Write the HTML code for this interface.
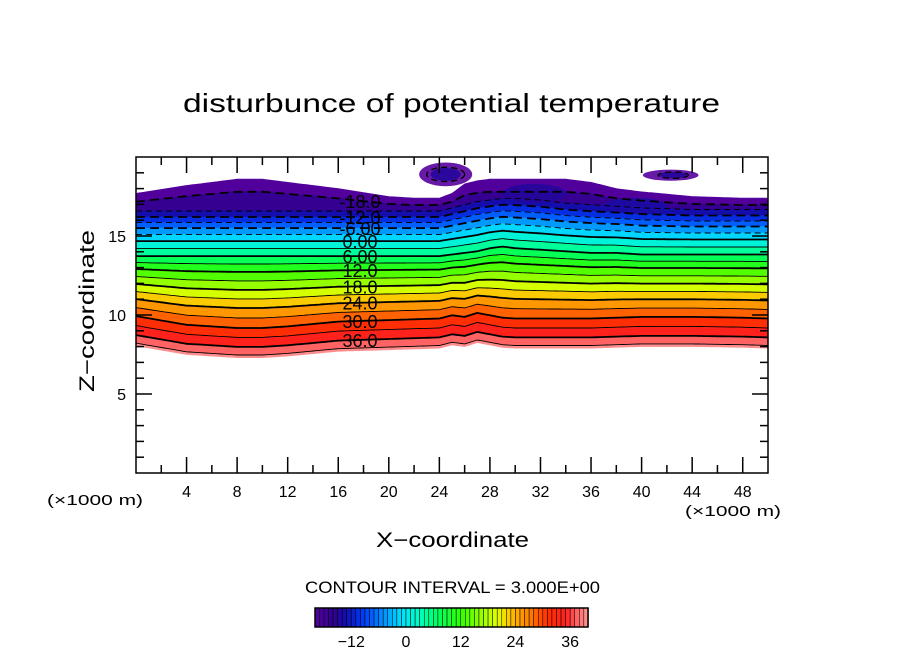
<!DOCTYPE html>
<html><head><meta charset="utf-8"><style>
html,body{margin:0;padding:0;background:#fff}
svg{display:block;font-family:"Liberation Sans",sans-serif}
</style></head><body>
<svg id="chart" width="904" height="654" viewBox="0 0 904 654">
<text x="183" y="112" textLength="537" lengthAdjust="spacingAndGlyphs" font-size="26">disturbunce of potential temperature</text>
<g id="plot"></g>
<g id="axes"></g>
<text transform="translate(94,392) rotate(-90)" textLength="162" lengthAdjust="spacingAndGlyphs" font-size="21">Z−coordinate</text>
<text x="376" y="547" textLength="153" lengthAdjust="spacingAndGlyphs" font-size="21">X−coordinate</text>
<text x="47" y="505" textLength="96" lengthAdjust="spacingAndGlyphs" font-size="15">(×1000 m)</text>
<text x="685" y="516" textLength="96" lengthAdjust="spacingAndGlyphs" font-size="15">(×1000 m)</text>
<text x="305" y="593" textLength="295" lengthAdjust="spacingAndGlyphs" font-size="17">CONTOUR INTERVAL = 3.000E+00</text>
<g id="cbar"></g>
</svg>
<script>
// ---- data ----
const levelVals = [-21,-18,-12,-6,0,6,12,18,24,30,36,40];
const levelZ    = [17.4,16.96,16.2,15.5,14.68,13.73,12.85,11.84,10.82,9.68,8.48,7.8];
const xs   = [0,4,8,10,12,16,20,22,24,25,26,27,28,29,30,32,34,36,38,40,44,48,50];
const dTop = [0.3,0.8,1.2,1.2,1.0,0.6,0.1,0,0,0.3,0.9,1.1,1.2,1.2,1.2,1.2,1.2,1.0,0.6,0.4,0.1,0,0];
const dUp  = [0,0,0,0,0,0,0,0,0,0.2,0.4,0.6,0.7,0.8,0.8,0.7,0.5,0.4,0.3,0.2,0.1,0.1,0.1];
const dMid = [0,0,0,0,0,0,0,0,0,0.1,0.2,0.3,0.5,0.6,0.5,0.4,0.3,0.2,0.2,0.1,0.1,0.1,0.1];
const dLow = [0.25,-0.3,-0.5,-0.5,-0.4,-0.1,0,0.05,0.1,0.3,0.2,0.45,0.3,0.15,0.1,0.1,0.1,0.1,0.15,0.2,0.2,0.15,0.1];
const xTicks = [4,8,12,16,20,24,28,32,36,40,44,48];
const zTicks = [5,10,15];
const cbarTicks = [-12,0,12,24,36];
const labelLevels = [-18,-12,-6,0,6,12,18,24,30,36];
const labelText = ["-18.0","-12.0","-6.00","0.00","6.00","12.0","18.0","24.0","30.0","36.0"];
// blobs: [xCenter, zCenter, xRadius, zRadius, value]
const blobs = [[24.5,18.9,2.1,0.75,-20],[24.5,18.9,1.2,0.4,-15],[42.3,18.85,2.2,0.35,-20],[42.5,18.85,1.1,0.2,-15],
               [31.5,17.7,2.5,0.6,-15],[39.5,16.9,2.5,0.5,-14]];

// ---- scales ----
const X0=136,X1=768,Y0=473,Y1=157;
const sx=x=>X0+(X1-X0)*x/50, sz=z=>Y0-(Y0-Y1)*z/20;
const NS="http://www.w3.org/2000/svg";
function mk(tag,attrs,parent){const e=document.createElementNS(NS,tag);for(const k in attrs)e.setAttribute(k,attrs[k]);parent.appendChild(e);return e;}
function interp(arrX,arrY,x){if(x<=arrX[0])return arrY[0];for(let i=1;i<arrX.length;i++){if(x<=arrX[i]){const t=(x-arrX[i-1])/(arrX[i]-arrX[i-1]);return arrY[i-1]+t*(arrY[i]-arrY[i-1]);}}return arrY[arrY.length-1];}
const cmV=[-21,-16,-13,-9,-5,-1,3,7,12,17,20,23,27,31,35,38,41];
const cmC=[[96,0,160],[48,0,144],[16,16,176],[0,64,255],[0,144,255],[0,224,255],[0,255,192],[0,255,96],[48,255,0],[160,255,0],[224,255,0],[255,192,0],[255,128,0],[255,48,0],[255,32,32],[255,112,112],[255,170,170]];
function color(v){const c=[0,1,2].map(k=>Math.round(interp(cmV,cmC.map(a=>a[k]),v)));return `rgb(${c[0]},${c[1]},${c[2]})`;}
const dTop2 = dTop.map(d=>d*0.7);
const anchV=[-21,-18,-15,6,30], anchP=[dTop,dTop2,dUp,dMid,dLow];
function disp(v,x){const d=anchP.map(p=>interp(xs,p,x));return interp(anchV,d,v);}
function zOf(v,x){return interp(levelVals,levelZ,v)+disp(v,x);}
function curve(v){const pts=[];for(let x=0;x<=50.001;x+=0.25)pts.push([sx(x),sz(zOf(v,x))]);return pts;}

const plot=document.getElementById('plot');
const bandLevels=[];for(let v=-21;v<40;v+=3)bandLevels.push(v);bandLevels.push(40);
for(let i=0;i<bandLevels.length-1;i++){
  const a=curve(bandLevels[i]), b=curve(bandLevels[i+1]).reverse();
  const c=color((bandLevels[i]+bandLevels[i+1])/2);
  const p=mk('polygon',{points:a.concat(b).map(q=>q[0].toFixed(1)+','+q[1].toFixed(1)).join(' '),fill:c,stroke:c,'stroke-width':0.6},plot);
  
  
}
blobs.forEach((bl,i)=>{
  const e=mk('ellipse',{cx:sx(bl[0]),cy:sz(bl[1]),rx:sx(bl[2])-X0,ry:sz(0)-sz(bl[3]),fill:color(bl[4]),opacity:0.9},plot);
  
  
});
mk('ellipse',{cx:sx(24.5),cy:sz(18.9),rx:sx(1.5)-X0,ry:sz(0)-sz(0.45),fill:'none',stroke:'#000','stroke-width':1.3,'stroke-dasharray':'6,4'},plot);
mk('ellipse',{cx:sx(42.5),cy:sz(18.85),rx:sx(1.2)-X0,ry:sz(0)-sz(0.2),fill:'none',stroke:'#000','stroke-width':1.3,'stroke-dasharray':'6,4'},plot);
for(let v=-18;v<=39;v+=3){
  const pts=curve(v);
  const major=v%6===0;
  const l=mk('polyline',{points:pts.map(q=>q[0].toFixed(1)+','+q[1].toFixed(1)).join(' '),fill:'none',stroke:'#000','stroke-width':major?1.8:0.9},plot);
  if(v<0)l.setAttribute('stroke-dasharray',major?'9,5':'6,4');
  
  
}
labelLevels.forEach((v,i)=>{
  const y=sz(zOf(v,18));
  const t=mk('text',{x:360,y:y+7,'text-anchor':'middle','font-size':18},plot);
  t.textContent=labelText[i];
  
  
});
const ax=document.getElementById('axes');
mk('rect',{x:X0,y:Y1,width:X1-X0,height:Y0-Y1,fill:'none',stroke:'#000','stroke-width':1.5},ax);
for(let x=2;x<50;x+=2){const L=(x%4===0)?16:8;
  mk('line',{x1:sx(x),x2:sx(x),y1:Y0,y2:Y0-L,stroke:'#000','stroke-width':1.5},ax);
  mk('line',{x1:sx(x),x2:sx(x),y1:Y1,y2:Y1+L,stroke:'#000','stroke-width':1.5},ax);}
for(let z=1;z<20;z++){const L=(z%5===0)?16:8;
  mk('line',{x1:X0,x2:X0+L,y1:sz(z),y2:sz(z),stroke:'#000','stroke-width':1.5},ax);
  mk('line',{x1:X1,x2:X1-L,y1:sz(z),y2:sz(z),stroke:'#000','stroke-width':1.5},ax);}
xTicks.forEach(x=>{const t=mk('text',{x:sx(x),y:497,'text-anchor':'middle','font-size':16},ax);t.textContent=x;
  
  });
zTicks.forEach(z=>{const t=mk('text',{x:126,y:sz(z)+6,'text-anchor':'end','font-size':16},ax);t.textContent=z;
  
  });
const cb=document.getElementById('cbar');
const cbx=v=>406+(v)*4.56;
for(let v=-20;v<40;v++){
  mk('rect',{x:cbx(v),y:608,width:4.56,height:19,fill:color(v+0.5),stroke:'#000','stroke-width':0.5},cb);
}
mk('rect',{x:315,y:608,width:273,height:19,fill:'none',stroke:'#000','stroke-width':1.5},cb);
cbarTicks.forEach(v=>{const t=mk('text',{x:cbx(v),y:647,'text-anchor':'middle','font-size':16},cb);t.textContent=v<0?'−'+(-v):v;
  
  });
</script>
</body></html>
